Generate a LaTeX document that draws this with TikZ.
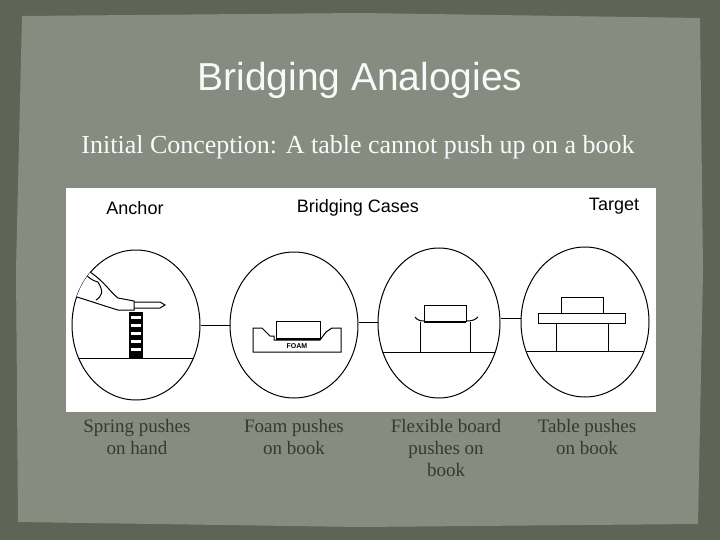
\documentclass[tikz,border=0pt]{standalone}
\usepackage{fontspec}
\usetikzlibrary{shapes.geometric}
\setmainfont{Liberation Serif}
\newfontfamily\sans{Liberation Sans}
\definecolor{outer}{HTML}{5E6555}
\definecolor{inner}{HTML}{868C80}
\definecolor{captxt}{HTML}{353B2C}
\tikzset{x=1pt,y=-1pt,
 ell/.style={draw,line width=1pt},
 ln/.style={line width=1pt},
 captext/.style={font=\fontsize{19}{22}\selectfont,text=captxt,align=center},
 hdr/.style={font=\sans\fontsize{18}{20}\selectfont,text=black}}
\begin{document}
\begin{tikzpicture}
\fill[outer] (0,0) rectangle (720,540);
\fill[inner] (22,16) -- (360,13) -- (700,18) -- (703,270) -- (698,524) -- (360,527) -- (18,522) -- (16,270) -- cycle;
\useasboundingbox (0,0) rectangle (720,540);
\node[font=\sans\fontsize{39}{42}\selectfont,text=white!95!gray] (title) at (360,80) {Bridging Analogies};
\node[font=\fontsize{26}{30}\selectfont,text=white!95!gray] (sub) at (358,147) {Initial Conception: A table cannot push up on a book};
\fill[white] (66,188) rectangle (656,412);
\node[hdr] (h1) at (135,208) {Anchor};
\node[hdr] (h2) at (358,208) {Bridging Cases};
\node[hdr] (h3) at (614,206) {Target};
% ellipses
\node[ell,ellipse,minimum width=128,minimum height=150,inner sep=0] (e1) at (136,325) {};
\node[ell,ellipse,minimum width=128,minimum height=146,inner sep=0] (e2) at (294,325) {};
\node[ell,ellipse,minimum width=122,minimum height=150,inner sep=0] (e3) at (439,323) {};
\node[ell,ellipse,minimum width=128,minimum height=150,inner sep=0] (e4) at (585,322) {};
\draw[ln] (e1.east|-0,325) -- (e2.west|-0,325);
\draw[ln] (e2.east|-0,322) -- (e3.west|-0,322);
\draw[ln] (e3.east|-0,318) -- (e4.west|-0,318);
% ellipse 1: spring and hand
\begin{scope}
\clip (136,325) ellipse (64 and 75);
\draw[ln] (60,358) -- (210,358);
\fill[black] (129,312) rectangle (143,358);
\foreach \y in {316,324,332,340,348} \fill[white] (131,\y) rectangle (141,\y+3);
\draw[ln,fill=white] (120,302) -- (160,302) -- (165,305) -- (160,308) -- (120,308) -- cycle;
\draw[ln,fill=white] (60,268) -- (90,272) .. controls (105,282) and (110,292) .. (118,298) -- (134,301) -- (134,310) -- (118,310) .. controls (104,306) and (88,300) .. (60,292);
\draw[ln] (78,264) .. controls (85,275) and (90,280) .. (98,282);
\draw[ln] (98,282) .. controls (104,292) and (102,296) .. (96,300);
\end{scope}
% ellipse 2: foam
\draw[ln] (253,328) -- (262,328) -- (270,336) -- (274,336) -- (274,340) -- (320,340) -- (326,332) -- (332,328) -- (341,328) -- (341,352) -- (253,352) -- cycle;
\draw[ln,fill=white] (276,321) rectangle (320,339);
\draw[line width=2pt] (276,339) -- (320,339);
\node[font=\sans\bfseries\fontsize{7}{7}\selectfont,inner sep=0] (foam) at (297,346) {FOAM};
% ellipse 3: flexible board
\begin{scope}
\clip (439,323) ellipse (61 and 75);
\draw[ln] (370,352) -- (510,352);
\end{scope}
\draw[ln] (420,322) -- (420,352);
\draw[ln] (470,322) -- (470,352);
\draw[ln] (415,317) .. controls (417,320) and (420,321) .. (424,321) -- (466,321) .. controls (472,321) and (475,320) .. (478,317);
\draw[ln,fill=white] (424,305) rectangle (466,321);
\draw[line width=2pt] (424,322) -- (466,322);
% ellipse 4: table
\begin{scope}
\clip (585,322) ellipse (64 and 75);
\draw[ln] (515,351) -- (655,351);
\end{scope}
\draw[ln] (556,323) -- (556,351);
\draw[ln] (608,323) -- (608,351);
\draw[ln,fill=white] (538,313) rectangle (625,323);
\draw[ln,fill=white] (561,297) rectangle (603,313);
% captions
\node[captext] (c1) at (137,437) {Spring pushes\\on hand};
\node[captext] (c2) at (294,437) {Foam pushes\\on book};
\node[captext] (c3) at (446,448) {Flexible board\\pushes on\\book};
\node[captext] (c4) at (587,437) {Table pushes\\on book};
\end{tikzpicture}
\end{document}
